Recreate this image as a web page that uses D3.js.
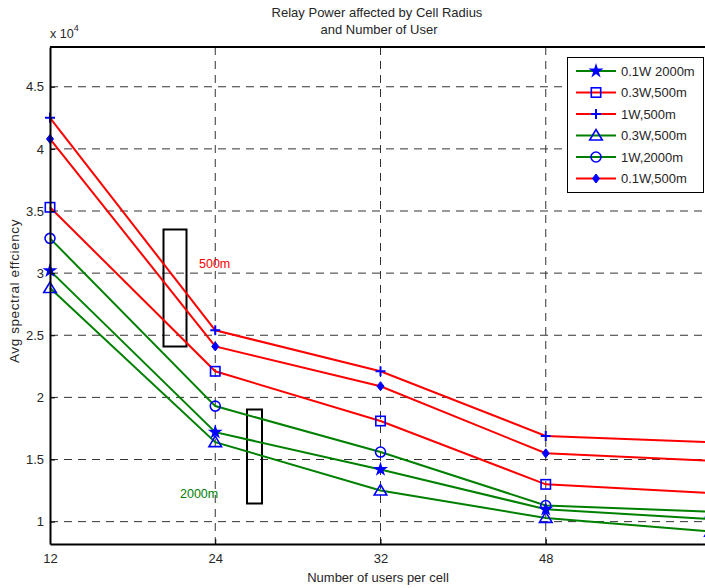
<!DOCTYPE html>
<html>
<head>
<meta charset="utf-8">
<script src="https://cdn.jsdelivr.net/npm/d3@7"></script>
<style>
  body { margin: 0; background: #fff; }
  svg { display: block; font-family: "Liberation Sans", Arial, sans-serif; }
</style>
</head>
<body>
<svg id="chart" width="705" height="588"></svg>
<script>
// users per cell (last point sits just past the right edge)
var users = ['12', '24', '32', '48', '64'];
var yTicks = [1, 1.5, 2, 2.5, 3, 3.5, 4, 4.5];

// values in units of 10^4
var star2000 = [3.02, 1.72, 1.42, 1.10, 1.02];
var square500 = [3.53, 2.21, 1.81, 1.30, 1.23];
var plus500 = [4.25, 2.54, 2.21, 1.69, 1.64];
var triangle2000 = [2.88, 1.64, 1.25, 1.03, 0.92];
var circle2000 = [3.28, 1.93, 1.56, 1.13, 1.08];
var diamond500 = [4.08, 2.41, 2.09, 1.55, 1.49];

var seriesNames = ['0.1W 2000m', '0.3W,500m', '1W,500m', '0.3W,500m', '1W,2000m', '0.1W,500m'];

var series = [
  {name: seriesNames[0], values: star2000, color: '#008000', marker: 'star'},
  {name: seriesNames[1], values: square500, color: '#ff0000', marker: 'square'},
  {name: seriesNames[2], values: plus500, color: '#ff0000', marker: 'plus'},
  {name: seriesNames[3], values: triangle2000, color: '#008000', marker: 'triangle'},
  {name: seriesNames[4], values: circle2000, color: '#008000', marker: 'circle'},
  {name: seriesNames[5], values: diamond500, color: '#ff0000', marker: 'diamond'}
];

var svg = d3.select('#chart');
var plotLeft = 50, plotTop = 47, plotBottom = 544, plotRight = 711;

var x = d3.scalePoint().domain(users).range([plotLeft, plotRight]);
var y = d3.scaleLinear().domain([0.82, 4.82]).range([plotBottom, plotTop]);

// grid
var grid = svg.append('g').attr('class', 'grid');
grid.selectAll('line.h')
  .data(yTicks)
  .enter().append('line')
  .attr('class', 'h')
  .attr('x1', plotLeft).attr('x2', 705)
  .attr('y1', function(d) { return y(d); })
  .attr('y2', function(d) { return y(d); })
  .attr('stroke', '#333')
  .attr('stroke-dasharray', '8,6');

grid.selectAll('line.v')
  .data(users.slice(1, 4))
  .enter().append('line')
  .attr('class', 'v')
  .attr('x1', function(d) { return x(d); })
  .attr('x2', function(d) { return x(d); })
  .attr('y1', plotTop).attr('y2', plotBottom)
  .attr('stroke', '#333')
  .attr('stroke-dasharray', '8,6');

// annotation boxes
svg.append('rect')
  .attr('x', 163.5).attr('y', 229.5).attr('width', 23).attr('height', 117)
  .attr('fill', 'none').attr('stroke', '#000').attr('stroke-width', 2);
svg.append('rect')
  .attr('x', 247).attr('y', 409.5).attr('width', 15).attr('height', 94)
  .attr('fill', 'none').attr('stroke', '#000').attr('stroke-width', 2);

svg.append('text')
  .attr('x', 199).attr('y', 268)
  .attr('fill', '#ff0000').attr('font-size', 12.5)
  .text('500m');
svg.append('text')
  .attr('x', 180).attr('y', 498)
  .attr('fill', '#008000').attr('font-size', 12.5)
  .text('2000m');

// lines
var line = d3.line()
  .x(function(d, i) { return x(users[i]); })
  .y(function(d) { return y(d); });

svg.selectAll('path.series')
  .data(series)
  .enter().append('path')
  .attr('class', 'series')
  .attr('d', function(s) { return line(s.values); })
  .attr('fill', 'none')
  .attr('stroke', function(s) { return s.color; })
  .attr('stroke-width', 2);

function drawMarker(g, type) {
  var blue = '#0000ff';
  if (type === 'star') {
    g.append('path').attr('d', d3.symbol().type(d3.symbolStar).size(70)())
      .attr('fill', blue);
  } else if (type === 'square') {
    g.append('rect').attr('x', -4.7).attr('y', -4.7).attr('width', 9.4).attr('height', 9.4)
      .attr('fill', 'none').attr('stroke', blue).attr('stroke-width', 1.6);
  } else if (type === 'plus') {
    g.append('path').attr('d', 'M-5,0H5M0,-5V5')
      .attr('stroke', blue).attr('stroke-width', 2);
  } else if (type === 'triangle') {
    g.append('path').attr('d', 'M0,-6L6.3,4.5H-6.3Z')
      .attr('fill', 'none').attr('stroke', blue).attr('stroke-width', 1.6);
  } else if (type === 'circle') {
    g.append('circle').attr('r', 5)
      .attr('fill', 'none').attr('stroke', blue).attr('stroke-width', 1.6);
  } else if (type === 'diamond') {
    g.append('path').attr('d', 'M0,-4.5L3.5,0L0,4.5L-3.5,0Z')
      .attr('fill', blue).attr('stroke', blue).attr('stroke-width', 1);
  }
}

series.forEach(function(s) {
  s.values.forEach(function(v, i) {
    var g = svg.append('g')
      .attr('transform', 'translate(' + x(users[i]) + ',' + y(v) + ')');
    drawMarker(g, s.marker);
  });
});

// axes
var xAxis = d3.axisBottom(x)
  .tickValues(users.slice(0, 4))
  .tickSizeInner(-5).tickSizeOuter(0).tickPadding(10);
var xg = svg.append('g')
  .attr('transform', 'translate(0,' + plotBottom + ')')
  .call(xAxis);

var yAxis = d3.axisLeft(y)
  .tickValues(yTicks)
  .tickFormat(d3.format('~g'))
  .tickSizeInner(-5).tickSizeOuter(0).tickPadding(6);
var yg = svg.append('g')
  .attr('transform', 'translate(' + plotLeft + ',0)')
  .call(yAxis);

[xg, yg].forEach(function(g) {
  g.select('.domain').attr('stroke', '#000').attr('stroke-width', 2);
  g.selectAll('.tick line').attr('stroke', '#000');
  g.selectAll('.tick text')
    .attr('fill', '#262626')
    .attr('font-size', 13)
    .attr('font-family', '"Liberation Sans", Arial, sans-serif');
});

// top border
svg.append('line')
  .attr('x1', plotLeft).attr('x2', 705).attr('y1', plotTop).attr('y2', plotTop)
  .attr('stroke', '#000').attr('stroke-width', 2);

// exponent
var expo = svg.append('text').attr('x', 50).attr('y', 38)
  .attr('font-size', 12.5).attr('fill', '#262626');
expo.append('tspan').text('x 10');
expo.append('tspan').attr('dy', -7).attr('font-size', 9).text('4');

// titles
svg.append('text')
  .attr('x', 377).attr('y', 17)
  .attr('text-anchor', 'middle').attr('font-size', 13).attr('fill', '#262626')
  .text('Relay Power affected by Cell Radius');
svg.append('text')
  .attr('x', 379).attr('y', 34)
  .attr('text-anchor', 'middle').attr('font-size', 13).attr('fill', '#262626')
  .text('and Number of User');

svg.append('text')
  .attr('x', 378).attr('y', 582)
  .attr('text-anchor', 'middle').attr('font-size', 13).attr('fill', '#262626')
  .text('Number of users per cell');

svg.append('text')
  .attr('transform', 'translate(19,291) rotate(-90)')
  .attr('text-anchor', 'middle').attr('font-size', 13.5)
  .attr('letter-spacing', 0.6).attr('fill', '#262626')
  .text('Avg spectral effciency');

// legend
var legend = svg.append('g').attr('transform', 'translate(567,57)');
legend.append('rect')
  .attr('x', 0.5).attr('y', 0.5).attr('width', 136).attr('height', 135)
  .attr('fill', '#fff').attr('stroke', '#000').attr('stroke-width', 1);

var rows = legend.selectAll('g.row')
  .data(series)
  .enter().append('g')
  .attr('class', 'row')
  .attr('transform', function(d, i) { return 'translate(0,' + (14 + i * 21.5) + ')'; });

rows.append('line')
  .attr('x1', 9).attr('x2', 49)
  .attr('stroke', function(d) { return d.color; })
  .attr('stroke-width', 2);

rows.each(function(d) {
  var g = d3.select(this).append('g').attr('transform', 'translate(29,0)');
  drawMarker(g, d.marker);
});

rows.append('text')
  .attr('x', 54).attr('dy', '0.35em')
  .attr('font-size', 13).attr('fill', '#262626')
  .text(function(d) { return d.name; });
</script>
</body>
</html>
